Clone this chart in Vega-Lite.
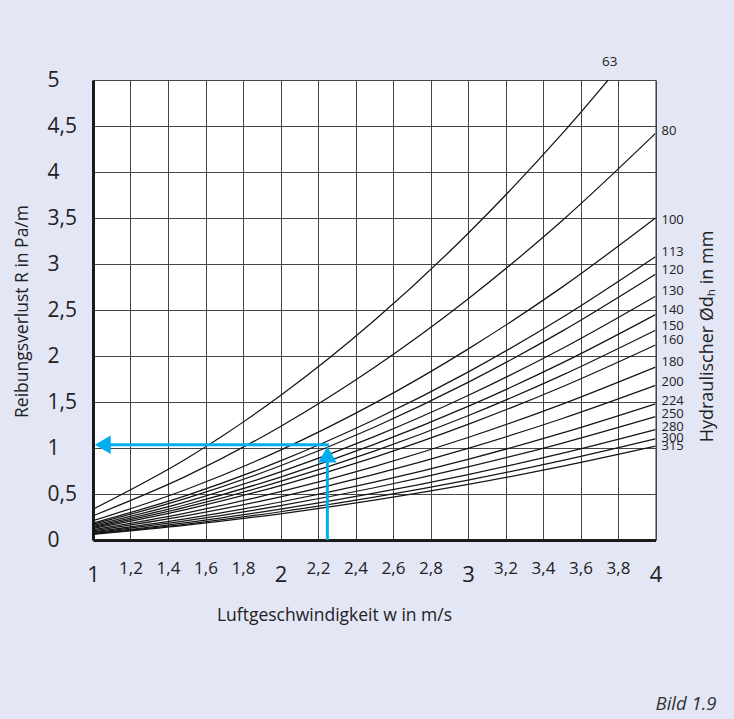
{
  "$schema": "https://vega.github.io/schema/vega-lite/v6.json",
  "width": 562.5,
  "height": 460,
  "autosize": {"type": "none"},
  "padding": {"left": 93, "top": 80, "right": 78, "bottom": 179},
  "background": "#e3e6f4",
  "config": {
    "font": "Open Sans",
    "view": {"fill": "white", "stroke": "#333333", "strokeWidth": 1}
  },
  "title": {
    "text": "Bild 1.9",
    "orient": "bottom",
    "anchor": "end",
    "fontStyle": "italic",
    "fontWeight": "normal",
    "fontSize": 18.5,
    "color": "#333333",
    "offset": 71,
    "dx": 0
  },
  "datasets": {
    "curves": [
      {"d": "63", "w": 1, "R": 0.335}, {"d": "63", "w": 1.5, "R": 0.886}, {"d": "63", "w": 2, "R": 1.57}, {"d": "63", "w": 2.5, "R": 2.385}, {"d": "63", "w": 3, "R": 3.332}, {"d": "63", "w": 3.5, "R": 4.411}, {"d": "63", "w": 4, "R": 5.622},
      {"d": "80", "w": 1, "R": 0.263}, {"d": "80", "w": 1.5, "R": 0.697}, {"d": "80", "w": 2, "R": 1.234}, {"d": "80", "w": 2.5, "R": 1.875}, {"d": "80", "w": 3, "R": 2.62}, {"d": "80", "w": 3.5, "R": 3.468}, {"d": "80", "w": 4, "R": 4.42},
      {"d": "100", "w": 1, "R": 0.209}, {"d": "100", "w": 1.5, "R": 0.552}, {"d": "100", "w": 2, "R": 0.977}, {"d": "100", "w": 2.5, "R": 1.485}, {"d": "100", "w": 3, "R": 2.075}, {"d": "100", "w": 3.5, "R": 2.746}, {"d": "100", "w": 4, "R": 3.5},
      {"d": "113", "w": 1, "R": 0.184}, {"d": "113", "w": 1.5, "R": 0.485}, {"d": "113", "w": 2, "R": 0.86}, {"d": "113", "w": 2.5, "R": 1.307}, {"d": "113", "w": 3, "R": 1.825}, {"d": "113", "w": 3.5, "R": 2.416}, {"d": "113", "w": 4, "R": 3.08},
      {"d": "120", "w": 1, "R": 0.172}, {"d": "120", "w": 1.5, "R": 0.455}, {"d": "120", "w": 2, "R": 0.807}, {"d": "120", "w": 2.5, "R": 1.226}, {"d": "120", "w": 3, "R": 1.713}, {"d": "120", "w": 3.5, "R": 2.268}, {"d": "120", "w": 4, "R": 2.89},
      {"d": "130", "w": 1, "R": 0.158}, {"d": "130", "w": 1.5, "R": 0.418}, {"d": "130", "w": 2, "R": 0.74}, {"d": "130", "w": 2.5, "R": 1.124}, {"d": "130", "w": 3, "R": 1.571}, {"d": "130", "w": 3.5, "R": 2.079}, {"d": "130", "w": 4, "R": 2.65},
      {"d": "140", "w": 1, "R": 0.146}, {"d": "140", "w": 1.5, "R": 0.386}, {"d": "140", "w": 2, "R": 0.684}, {"d": "140", "w": 2.5, "R": 1.039}, {"d": "140", "w": 3, "R": 1.452}, {"d": "140", "w": 3.5, "R": 1.922}, {"d": "140", "w": 4, "R": 2.45},
      {"d": "150", "w": 1, "R": 0.136}, {"d": "150", "w": 1.5, "R": 0.359}, {"d": "150", "w": 2, "R": 0.637}, {"d": "150", "w": 2.5, "R": 0.967}, {"d": "150", "w": 3, "R": 1.351}, {"d": "150", "w": 3.5, "R": 1.789}, {"d": "150", "w": 4, "R": 2.28},
      {"d": "160", "w": 1, "R": 0.126}, {"d": "160", "w": 1.5, "R": 0.334}, {"d": "160", "w": 2, "R": 0.592}, {"d": "160", "w": 2.5, "R": 0.899}, {"d": "160", "w": 3, "R": 1.257}, {"d": "160", "w": 3.5, "R": 1.663}, {"d": "160", "w": 4, "R": 2.12},
      {"d": "180", "w": 1, "R": 0.112}, {"d": "180", "w": 1.5, "R": 0.296}, {"d": "180", "w": 2, "R": 0.525}, {"d": "180", "w": 2.5, "R": 0.798}, {"d": "180", "w": 3, "R": 1.114}, {"d": "180", "w": 3.5, "R": 1.475}, {"d": "180", "w": 4, "R": 1.88},
      {"d": "200", "w": 1, "R": 0.1}, {"d": "200", "w": 1.5, "R": 0.265}, {"d": "200", "w": 2, "R": 0.469}, {"d": "200", "w": 2.5, "R": 0.713}, {"d": "200", "w": 3, "R": 0.996}, {"d": "200", "w": 3.5, "R": 1.318}, {"d": "200", "w": 4, "R": 1.68},
      {"d": "224", "w": 1, "R": 0.088}, {"d": "224", "w": 1.5, "R": 0.233}, {"d": "224", "w": 2, "R": 0.413}, {"d": "224", "w": 2.5, "R": 0.628}, {"d": "224", "w": 3, "R": 0.877}, {"d": "224", "w": 3.5, "R": 1.161}, {"d": "224", "w": 4, "R": 1.48},
      {"d": "250", "w": 1, "R": 0.08}, {"d": "250", "w": 1.5, "R": 0.211}, {"d": "250", "w": 2, "R": 0.374}, {"d": "250", "w": 2.5, "R": 0.568}, {"d": "250", "w": 3, "R": 0.794}, {"d": "250", "w": 3.5, "R": 1.051}, {"d": "250", "w": 4, "R": 1.34},
      {"d": "280", "w": 1, "R": 0.071}, {"d": "280", "w": 1.5, "R": 0.189}, {"d": "280", "w": 2, "R": 0.335}, {"d": "280", "w": 2.5, "R": 0.509}, {"d": "280", "w": 3, "R": 0.711}, {"d": "280", "w": 3.5, "R": 0.941}, {"d": "280", "w": 4, "R": 1.2},
      {"d": "300", "w": 1, "R": 0.066}, {"d": "300", "w": 1.5, "R": 0.173}, {"d": "300", "w": 2, "R": 0.307}, {"d": "300", "w": 2.5, "R": 0.467}, {"d": "300", "w": 3, "R": 0.652}, {"d": "300", "w": 3.5, "R": 0.863}, {"d": "300", "w": 4, "R": 1.1},
      {"d": "315", "w": 1, "R": 0.061}, {"d": "315", "w": 1.5, "R": 0.161}, {"d": "315", "w": 2, "R": 0.285}, {"d": "315", "w": 2.5, "R": 0.433}, {"d": "315", "w": 3, "R": 0.604}, {"d": "315", "w": 3.5, "R": 0.8}, {"d": "315", "w": 4, "R": 1.02}
    ],
    "labels": [
      {"d": "80", "w": 4, "R": 4.449},
      {"d": "100", "w": 4, "R": 3.482},
      {"d": "113", "w": 4, "R": 3.13},
      {"d": "120", "w": 4, "R": 2.938},
      {"d": "130", "w": 4, "R": 2.702},
      {"d": "140", "w": 4, "R": 2.496},
      {"d": "150", "w": 4, "R": 2.322},
      {"d": "160", "w": 4, "R": 2.17},
      {"d": "180", "w": 4, "R": 1.93},
      {"d": "200", "w": 4, "R": 1.717},
      {"d": "224", "w": 4, "R": 1.514},
      {"d": "250", "w": 4, "R": 1.37},
      {"d": "280", "w": 4, "R": 1.228},
      {"d": "300", "w": 4, "R": 1.109},
      {"d": "315", "w": 4, "R": 1.017}
    ],
    "toplabel": [{"d": "63", "w": 3.756, "R": 5.2}],
    "arrows": [
      {"w": 2.25, "R": 0, "w2": 2.25, "R2": 0.86},
      {"w": 1.07, "R": 1.035, "w2": 2.258, "R2": 1.035}
    ],
    "heads": [
      {"w": 2.25, "R": 0.93, "shape": "triangle-up"},
      {"w": 1.052, "R": 1.035, "shape": "triangle-left"}
    ]
  },
  "resolve": {"axis": {"x": "independent", "y": "independent"}},
  "layer": [
    {
      "data": {"name": "curves"},
      "mark": {"type": "line", "color": "#151515", "strokeWidth": 1.25, "interpolate": "monotone", "clip": true},
      "encoding": {
        "x": {
          "field": "w", "type": "quantitative",
          "scale": {"domain": [1, 4], "nice": false, "zero": false},
          "axis": {
            "values": [1, 1.2, 1.4, 1.6, 1.8, 2, 2.2, 2.4, 2.6, 2.8, 3, 3.2, 3.4, 3.6, 3.8, 4],
            "labelExpr": "replace(format(datum.value, '~g'), '.', ',')",
            "labelFontSize": {"condition": {"test": "datum.value % 1 === 0", "value": 22}, "value": 17},
            "labelPadding": {"condition": {"test": "datum.value % 1 === 0", "value": 24}, "value": 20},
            "labelBaseline": "top",
            "labelColor": "#222222",
            "labelFlush": false,
            "labelOverlap": false,
            "ticks": false,
            "tickSize": 0,
            "grid": true,
            "gridColor": "#454545",
            "gridWidth": 1,
            "domain": true,
            "domainColor": "#1a1a1a",
            "domainWidth": 3,
            "title": "Luftgeschwindigkeit w in m/s",
            "titleFontSize": 17.5,
            "titleFontWeight": "normal",
            "titleColor": "#222222",
            "titleX": 241,
            "titleY": 75,
            "titleAlign": "center",
            "titleBaseline": "middle"
          }
        },
        "y": {
          "field": "R", "type": "quantitative",
          "scale": {"domain": [0, 5], "nice": false},
          "axis": {
            "values": [0, 0.5, 1, 1.5, 2, 2.5, 3, 3.5, 4, 4.5, 5],
            "labelExpr": "replace(format(datum.value, '~g'), '.', ',')",
            "labelFontSize": 21,
            "labelAlign": "left",
            "labelBaseline": "middle",
            "labelPadding": 46,
            "labelColor": "#222222",
            "labelFlush": false,
            "labelOverlap": false,
            "ticks": false,
            "tickSize": 0,
            "grid": true,
            "gridColor": "#454545",
            "gridWidth": 1,
            "domain": true,
            "domainColor": "#1a1a1a",
            "domainWidth": 3,
            "title": "Reibungsverlust R in Pa/m",
            "titleFontSize": 17.5,
            "titleFontWeight": "normal",
            "titleColor": "#222222",
            "titleAngle": 270,
            "titleX": -71,
            "titleY": 231,
            "titleAlign": "center",
            "titleBaseline": "middle"
          }
        },
        "detail": {"field": "d", "type": "nominal"}
      }
    },
    {
      "data": {"name": "arrows"},
      "mark": {"type": "rule", "color": "#00aeef", "strokeWidth": 3},
      "encoding": {
        "x": {"field": "w", "type": "quantitative", "axis": null},
        "x2": {"field": "w2"},
        "y": {"field": "R", "type": "quantitative", "axis": null},
        "y2": {"field": "R2"}
      }
    },
    {
      "data": {"name": "heads"},
      "mark": {"type": "point", "filled": true, "color": "#00aeef", "opacity": 1, "size": 340},
      "encoding": {
        "x": {"field": "w", "type": "quantitative", "axis": null},
        "y": {"field": "R", "type": "quantitative", "axis": null},
        "shape": {"field": "shape", "type": "nominal", "scale": null}
      }
    },
    {
      "data": {"name": "toplabel"},
      "mark": {"type": "text", "align": "center", "baseline": "middle", "fontSize": 13.5, "color": "#222222"},
      "encoding": {
        "x": {"field": "w", "type": "quantitative", "axis": null},
        "y": {"field": "R", "type": "quantitative", "axis": null},
        "text": {"field": "d"}
      }
    },
    {
      "data": {"name": "labels"},
      "mark": {"type": "text", "align": "left", "baseline": "middle", "dx": 6, "fontSize": 13, "color": "#222222"},
      "encoding": {
        "x": {"field": "w", "type": "quantitative", "axis": null},
        "y": {
          "field": "R", "type": "quantitative",
          "axis": {
            "orient": "right",
            "labels": false,
            "ticks": false,
            "domain": false,
            "grid": false,
            "title": "Hydraulischer Ødₕ in mm",
            "titleFontSize": 18,
            "titleFontWeight": "normal",
            "titleColor": "#222222",
            "titleAngle": 270,
            "titleX": 52,
            "titleY": 256,
            "titleAlign": "center",
            "titleBaseline": "middle"
          }
        },
        "text": {"field": "d"}
      }
    }
  ]
}
